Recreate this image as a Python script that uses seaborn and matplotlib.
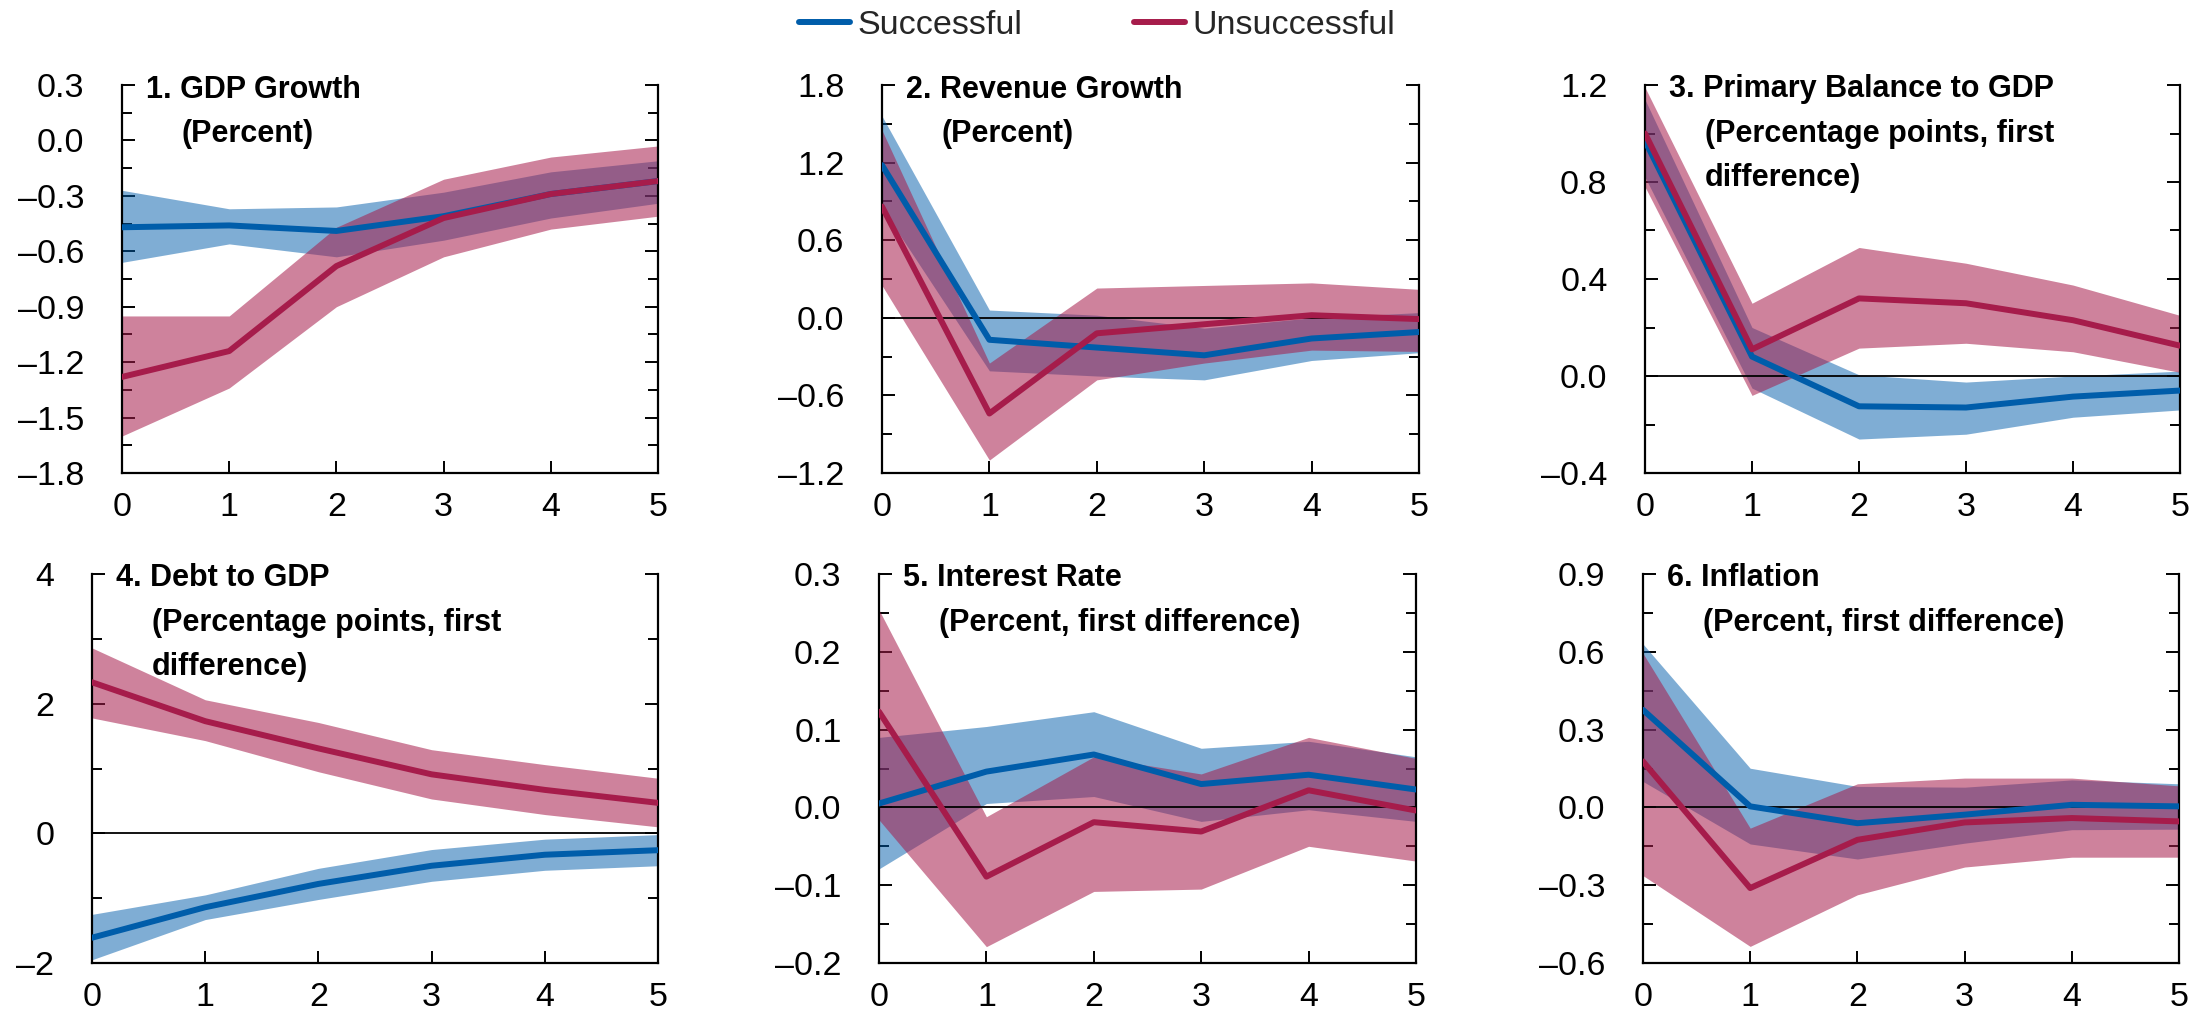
import numpy as np
import pandas as pd
import matplotlib
matplotlib.use("Agg")
import matplotlib.pyplot as plt
from matplotlib import font_manager
from matplotlib.lines import Line2D
from matplotlib.ticker import MultipleLocator, FuncFormatter
import seaborn as sns

# ---------------------------------------------------------------- data
horizon = [0, 1, 2, 3, 4, 5]
groups = ["Successful", "Unsuccessful"]

# 1. GDP growth
gdp_succ = [-0.47, -0.46, -0.49, -0.41, -0.29, -0.22]
gdp_succ_lo = [-0.66, -0.56, -0.63, -0.54, -0.42, -0.34]
gdp_succ_hi = [-0.27, -0.37, -0.36, -0.28, -0.17, -0.11]
gdp_unsucc = [-1.28, -1.14, -0.68, -0.42, -0.29, -0.22]
gdp_unsucc_lo = [-1.60, -1.34, -0.90, -0.63, -0.48, -0.41]
gdp_unsucc_hi = [-0.95, -0.95, -0.47, -0.21, -0.09, -0.03]

# 2. Revenue growth
rev_succ = [1.18, -0.17, -0.23, -0.29, -0.16, -0.11]
rev_succ_lo = [0.85, -0.41, -0.45, -0.48, -0.33, -0.27]
rev_succ_hi = [1.56, 0.06, 0.02, -0.08, 0.00, 0.04]
rev_unsucc = [0.86, -0.74, -0.12, -0.05, 0.02, -0.01]
rev_unsucc_lo = [0.25, -1.10, -0.48, -0.35, -0.25, -0.26]
rev_unsucc_hi = [1.45, -0.35, 0.23, 0.25, 0.27, 0.22]

# 3. Primary balance to GDP
pb_succ = [0.97, 0.08, -0.125, -0.13, -0.085, -0.06]
pb_succ_lo = [0.82, -0.05, -0.26, -0.24, -0.17, -0.14]
pb_succ_hi = [1.14, 0.20, 0.005, -0.025, 0.0, 0.02]
pb_unsucc = [1.0, 0.11, 0.32, 0.30, 0.23, 0.125]
pb_unsucc_lo = [0.78, -0.08, 0.115, 0.135, 0.10, 0.015]
pb_unsucc_hi = [1.19, 0.30, 0.53, 0.465, 0.375, 0.25]

# 4. Debt to GDP
debt_succ = [-1.61, -1.14, -0.78, -0.50, -0.33, -0.26]
debt_succ_lo = [-1.95, -1.33, -1.02, -0.74, -0.57, -0.50]
debt_succ_hi = [-1.25, -0.95, -0.54, -0.25, -0.09, -0.02]
debt_unsucc = [2.33, 1.73, 1.31, 0.91, 0.67, 0.47]
debt_unsucc_lo = [1.78, 1.43, 0.95, 0.53, 0.29, 0.10]
debt_unsucc_hi = [2.86, 2.06, 1.71, 1.29, 1.06, 0.85]

# 5. Interest rate
ir_succ = [0.005, 0.046, 0.068, 0.030, 0.042, 0.023]
ir_succ_lo = [-0.079, 0.005, 0.014, -0.018, -0.003, -0.018]
ir_succ_hi = [0.090, 0.104, 0.123, 0.076, 0.085, 0.065]
ir_unsucc = [0.123, -0.089, -0.019, -0.031, 0.022, -0.004]
ir_unsucc_lo = [-0.016, -0.179, -0.108, -0.105, -0.050, -0.069]
ir_unsucc_hi = [0.254, -0.012, 0.065, 0.043, 0.090, 0.063]

# 6. Inflation
inf_succ = [0.376, 0.004, -0.061, -0.028, 0.010, 0.004]
inf_succ_lo = [0.10, -0.141, -0.199, -0.138, -0.086, -0.084]
inf_succ_hi = [0.630, 0.151, 0.081, 0.078, 0.106, 0.091]
inf_unsucc = [0.177, -0.311, -0.125, -0.058, -0.041, -0.054]
inf_unsucc_lo = [-0.263, -0.536, -0.337, -0.23, -0.192, -0.192]
inf_unsucc_hi = [0.594, -0.08, 0.091, 0.113, 0.113, 0.083]

titles = [
    ["1. GDP Growth", "(Percent)"],
    ["2. Revenue Growth", "(Percent)"],
    ["3. Primary Balance to GDP", "(Percentage points, first", "difference)"],
    ["4. Debt to GDP", "(Percentage points, first", "difference)"],
    ["5. Interest Rate", "(Percent, first difference)"],
    ["6. Inflation", "(Percent, first difference)"],
]
y_limits = [(-1.8, 0.3), (-1.2, 1.8), (-0.4, 1.2), (-2, 4), (-0.2, 0.3), (-0.6, 0.9)]
y_steps = [0.3, 0.6, 0.4, 2, 0.1, 0.3]
y_decimals = [1, 1, 1, 0, 1, 1]
zero_line = [False, True, True, True, True, True]

series = [
    (gdp_succ, gdp_succ_lo, gdp_succ_hi, gdp_unsucc, gdp_unsucc_lo, gdp_unsucc_hi),
    (rev_succ, rev_succ_lo, rev_succ_hi, rev_unsucc, rev_unsucc_lo, rev_unsucc_hi),
    (pb_succ, pb_succ_lo, pb_succ_hi, pb_unsucc, pb_unsucc_lo, pb_unsucc_hi),
    (debt_succ, debt_succ_lo, debt_succ_hi, debt_unsucc, debt_unsucc_lo, debt_unsucc_hi),
    (ir_succ, ir_succ_lo, ir_succ_hi, ir_unsucc, ir_unsucc_lo, ir_unsucc_hi),
    (inf_succ, inf_succ_lo, inf_succ_hi, inf_unsucc, inf_unsucc_lo, inf_unsucc_hi),
]

# ---------------------------------------------------------------- style
sns.set_theme(style="ticks")
available = {f.name for f in font_manager.fontManager.ttflist}
narrow = "Liberation Sans Narrow" in available
if narrow:
    plt.rcParams["font.family"] = ["Liberation Sans Narrow", "Liberation Sans", "DejaVu Sans"]
    TICK_FS, TITLE_FS, LEGEND_FS = 28, 25, 28
else:
    plt.rcParams["font.family"] = ["Liberation Sans", "DejaVu Sans"]
    TICK_FS, TITLE_FS, LEGEND_FS = 24.5, 22, 24.5
plt.rcParams["axes.unicode_minus"] = True

BLUE = "#005DAA"
RED = "#A61C4B"
LINE_W = 4.3

W, H = 2211, 1023
fig = plt.figure(figsize=(W / 100, H / 100), dpi=100)

# axes boxes in pixels: left, top, right, bottom
boxes = [
    (122, 85, 658, 473),
    (882, 85, 1419, 473),
    (1645, 85, 2180, 473),
    (92, 574, 658, 963),
    (879, 574, 1416, 963),
    (1643, 574, 2179, 963),
]

for i, (l, t, r, b) in enumerate(boxes):
    ax = fig.add_axes([l / W, 1 - b / H, (r - l) / W, (b - t) / H])
    s, s_lo, s_hi, u, u_lo, u_hi = series[i]

    ax.fill_between(horizon, s_lo, s_hi, color=BLUE, alpha=0.5, linewidth=0, zorder=1)
    ax.fill_between(horizon, u_lo, u_hi, color=RED, alpha=0.55, linewidth=0, zorder=2)
    if zero_line[i]:
        ax.axhline(0, color="black", linewidth=1.3, zorder=3)

    df = pd.DataFrame({
        "h": horizon * 2,
        "value": list(s) + list(u),
        "group": [groups[0]] * 6 + [groups[1]] * 6,
    })
    sns.lineplot(data=df, x="h", y="value", hue="group", hue_order=groups,
                 palette=[BLUE, RED], linewidth=LINE_W, legend=False, ax=ax, zorder=4)

    lo, hi = y_limits[i]
    ax.set_xlim(0, 5)
    ax.set_ylim(lo, hi)
    ax.set_xlabel("")
    ax.set_ylabel("")
    ax.xaxis.set_major_locator(MultipleLocator(1))
    ax.yaxis.set_major_locator(MultipleLocator(y_steps[i]))
    ax.yaxis.set_minor_locator(MultipleLocator(y_steps[i] / 2))
    dec = y_decimals[i]
    ax.yaxis.set_major_formatter(FuncFormatter(
        lambda v, p, d=dec: (f"{v:.{d}f}" if abs(v) > 1e-9 else f"{0:.{d}f}").replace("-", "\u2013")))

    for side in ["left", "right", "bottom"]:
        ax.spines[side].set_visible(True)
        ax.spines[side].set_linewidth(1.6)
        ax.spines[side].set_color("black")
    ax.spines["top"].set_visible(False)

    ax.tick_params(axis="y", which="major", direction="in", length=9.5, width=1.4,
                   left=True, right=True, labelsize=TICK_FS, pad=27, colors="black")
    ax.tick_params(axis="y", which="minor", direction="in", length=7, width=1.4,
                   left=True, right=True, colors="black")
    ax.tick_params(axis="x", which="major", direction="in", length=8.5, width=1.4,
                   top=False, bottom=True, labelsize=TICK_FS, pad=14, colors="black")
    ax.tick_params(axis="x", which="minor", bottom=False, top=False)

    for k, line in enumerate(titles[i]):
        dx = 17 if k == 0 else 43
        ax.annotate(line, xy=(0, 1), xycoords="axes fraction",
                    xytext=(dx, -9 - 31.7 * k), textcoords="offset points",
                    ha="left", va="baseline", fontsize=TITLE_FS, fontweight="bold",
                    color="black", zorder=6)

handles = [Line2D([], [], color=BLUE, linewidth=LINE_W), Line2D([], [], color=RED, linewidth=LINE_W)]
fig.legend(handles, groups, loc="center", bbox_to_anchor=(1097 / W, 1 - 25 / H), ncol=2,
           frameon=False, fontsize=LEGEND_FS, handlelength=1.5, handletextpad=0.2,
           columnspacing=3.3, borderaxespad=0, borderpad=0)

fig.savefig("out.png", dpi=100)
